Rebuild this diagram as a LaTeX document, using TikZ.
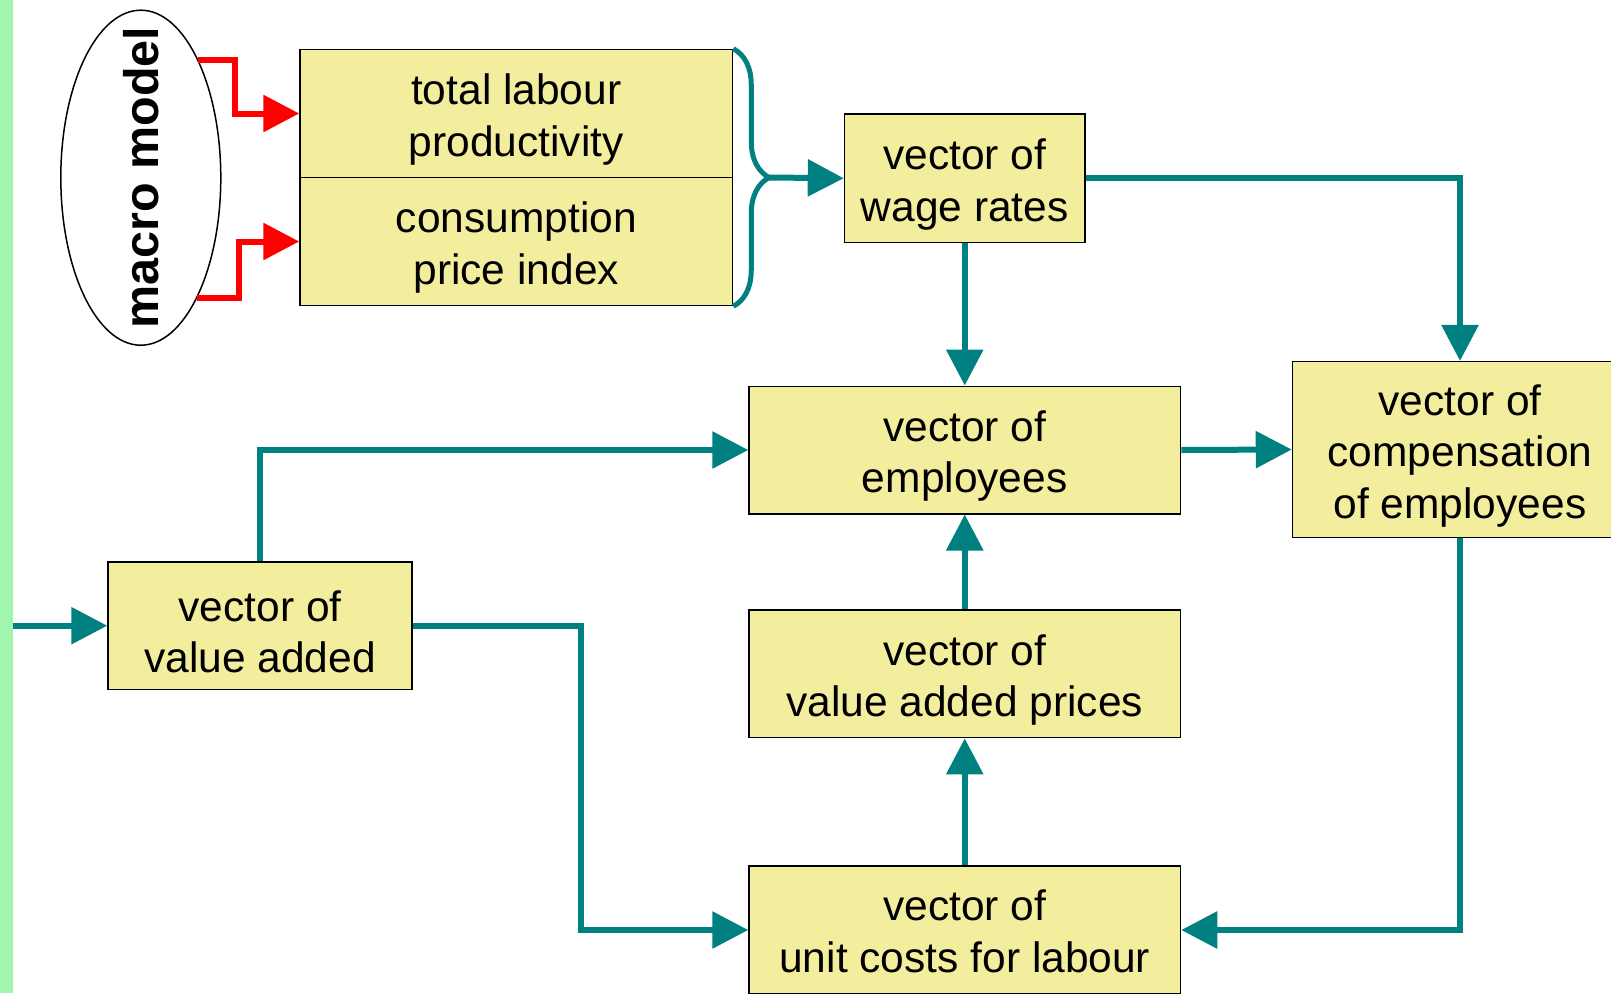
\documentclass[tikz,border=0pt]{standalone}
\usepackage{fontspec}
\setmainfont{Liberation Sans}
\usetikzlibrary{arrows.meta,shapes.geometric,decorations.pathreplacing,positioning,calc}
\definecolor{boxyellow}{RGB}{243,238,158}
\definecolor{flowteal}{RGB}{0,128,128}
\definecolor{stripgreen}{RGB}{160,245,175}
\newcommand{\topgap}[1][43pt]{\rule{0pt}{#1}}

\begin{document}
\begin{tikzpicture}[x=1pt,y=-1pt,>={Triangle[length=36pt,width=36pt]},
    box node/.style={draw,fill=boxyellow,line width=1.5pt,align=center,inner sep=0pt,font=\fontsize{42.5}{51.5}\selectfont},
    flow/.style={->,draw=flowteal,line width=6pt},
    red flow/.style={->,draw=red,line width=6pt}]

            \useasboundingbox (0,0) rectangle (1611,993);
            \fill[white] (0,0) rectangle (1611,993);
            \fill[stripgreen] (0,0) rectangle (12.5,993);

            % macro model
            \node[ellipse,draw,fill=white,line width=1.5pt,inner sep=0pt,minimum width=160pt,minimum height=335pt] (macro) at (140.8,177.7) {};
            \node[rotate=90,font=\bfseries\fontsize{48.5}{58}\selectfont] (macrolabel) at (macro) {macro model};

            \node[box node,minimum width=432.5pt,minimum height=128pt] (prod) at (516.25,113.5) {\topgap total labour\\productivity};
            \node[box node,minimum width=432.5pt,minimum height=128pt] (cpi) [below=-1.5pt of prod] {\topgap consumption\\price index};

            \node[box node,minimum width=240.5pt,minimum height=128.5pt] (wage) at (964.75,178.25) {\topgap vector of\\wage rates};
            \node[box node,minimum width=431.5pt,minimum height=127.5pt] (emp) at (964.75,450) {\topgap vector of\\employees};
            \node[box node,minimum width=335pt,minimum height=175.7pt] (comp) at (1460,449.5) {\topgap vector of\\compensation\\of employees};
            \node[box node,minimum width=304pt,minimum height=127.5pt] (va) at (260,625.7) {\topgap vector of\\value added};
            \node[box node,minimum width=431.5pt,minimum height=127.5pt] (vap) at (964.75,673.9) {\topgap vector of\\value added prices};
            \node[box node,minimum width=431.5pt,minimum height=128pt] (ucl) at (964.75,930) {\topgap[33pt]vector of\\unit costs for labour};

            % red inputs
            \draw[red flow] (macro.64) -| ([xshift=-64pt]prod.west) -- (prod.west);
            \draw[red flow] (macro.-65) -| ([xshift=-60pt]cpi.west) -- (cpi.west);

            % brace
            \draw[flowteal,line width=5pt,decorate,decoration={brace,amplitude=36pt}] (prod.north east) -- (cpi.south east);
            \coordinate (bracetip) at ($(prod.north east)!0.5!(cpi.south east)+(36pt,0)$);
            \coordinate (feed) at (12.5,625.7);

            \draw[flow] (bracetip) -- (wage.west);
            \draw[flow] (wage.east) -| (comp.north);
            \draw[flow] (wage.south) -- (emp.north);
            \draw[flow] (emp.east) -- (comp.west);
            \draw[flow] (va.north) |- (emp.west);
            \draw[flow] (feed) -- (va.west);
            \draw[flow] (va.east) -- ++(168.5,0) |- (ucl.west);
            \draw[flow] (comp.south) |- (ucl.east);
            \draw[flow] (ucl.north) -- (vap.south);
            \draw[flow] (vap.north) -- (emp.south);

\end{tikzpicture}
\end{document}
